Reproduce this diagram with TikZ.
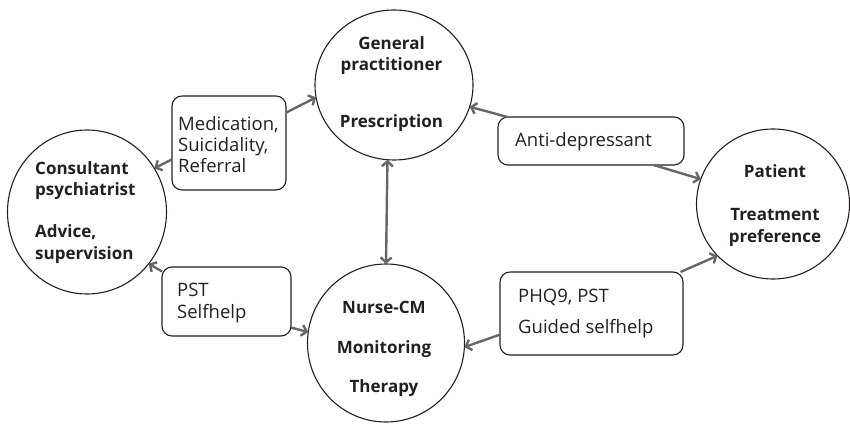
\documentclass[tikz,border=0pt]{standalone}
\usepackage{fontspec}
\setmainfont{Open Sans}
\usetikzlibrary{shapes.geometric,arrows.meta}
\definecolor{arrowgrey}{HTML}{666666}
\definecolor{inkdark}{HTML}{231F20}
\begin{document}
\begin{tikzpicture}[x=1pt,y=-1pt,
  role/.style={ellipse,draw=inkdark,line width=1.1pt,inner sep=0pt,outer sep=0pt},
  infobox/.style={draw=inkdark,line width=1.1pt,rounded corners=10pt,inner sep=0pt,outer sep=0pt},
  roletext/.style={font=\fontsize{17}{20}\selectfont\bfseries,text=inkdark,inner sep=0pt,anchor=base},
  roletextleft/.style={roletext,anchor=base west},
  boxtext/.style={font=\fontsize{18.5}{21}\selectfont,text=inkdark,inner sep=0pt,anchor=base west},
  tip/.style={Straight Barb[length=5pt,width=11pt]},
  flow/.style={draw=arrowgrey,line width=2.4pt,-{Straight Barb[length=5pt,width=11pt]}},
  twoway/.style={draw=arrowgrey,line width=2.4pt,{Straight Barb[length=5pt,width=11pt]}-{Straight Barb[length=5pt,width=11pt]}}]
\useasboundingbox (0,0) rectangle (850,427);

% the four roles
\node[role,minimum width=158pt,minimum height=150pt] (gp) at (394,85) {};
\node[role,minimum width=159pt,minimum height=164pt] (cons) at (87,212) {};
\node[role,minimum width=157pt,minimum height=158pt] (nurse) at (386,343) {};
\node[role,minimum width=153pt,minimum height=150pt] (pat) at (773,204) {};

\node[roletext] (gp1) at (391.5,50) {General};
\node[roletext] (gp2) at (391.5,71) {practitioner};
\node[roletext] (gp3) at (391.5,128) {Prescription};

\node[roletextleft] (cons1) at (35,175) {Consultant};
\node[roletextleft] (cons2) at (35,196) {psychiatrist};
\node[roletextleft] (cons3) at (35,238) {Advice,};
\node[roletextleft] (cons4) at (35,260) {supervision};

\node[roletext] (nurse1) at (384,313) {Nurse-CM};
\node[roletext] (nurse2) at (384,353) {Monitoring};
\node[roletext] (nurse3) at (384,392) {Therapy};

\node[roletext] (pat1) at (775,178) {Patient};
\node[roletext] (pat2) at (775,221) {Treatment};
\node[roletext] (pat3) at (775,243) {preference};

% what travels between them
\node[infobox,minimum width=114pt,minimum height=94pt] (med) at (229,143) {};
\node[infobox,minimum width=186pt,minimum height=48pt] (anti) at (591,141) {};
\node[infobox,minimum width=129pt,minimum height=69pt] (pst) at (226.5,301.5) {};
\node[infobox,minimum width=183pt,minimum height=83pt] (phq) at (591.5,313.5) {};

\node[boxtext] (med1) at (178,131) {Medication,};
\node[boxtext] (med2) at (178,152) {Suicidality,};
\node[boxtext] (med3) at (178,173) {Referral};

\node[boxtext] (anti1) at (515,147) {Anti-depressant};

\node[boxtext] (pst1) at (177,296) {PST};
\node[boxtext] (pst2) at (177,318) {Selfhelp};

\node[boxtext] (phq1) at (518,302) {PHQ9, PST};
\node[boxtext] (phq2) at (518,333) {Guided selfhelp};

% connectors
\draw[flow] (med.28.5) -- (gp.189.3);
\draw[flow] (med.196.6) -- (cons.33.1);
\draw[flow] (anti.164.7) -- (gp.344.4);
\draw[flow] (anti.339.4) -- (pat.161.8);
\draw[twoway] (gp.265) -- (nurse.90);
\draw[flow] (pst.155.1) -- (cons.320.3);
\draw[flow] (pst.338.4) -- (nurse.172);
\draw[flow] (phq.193.8) -- (nurse.357.1);
\draw[flow] (phq.25.9) -- (pat.223.9);
\end{tikzpicture}
\end{document}
